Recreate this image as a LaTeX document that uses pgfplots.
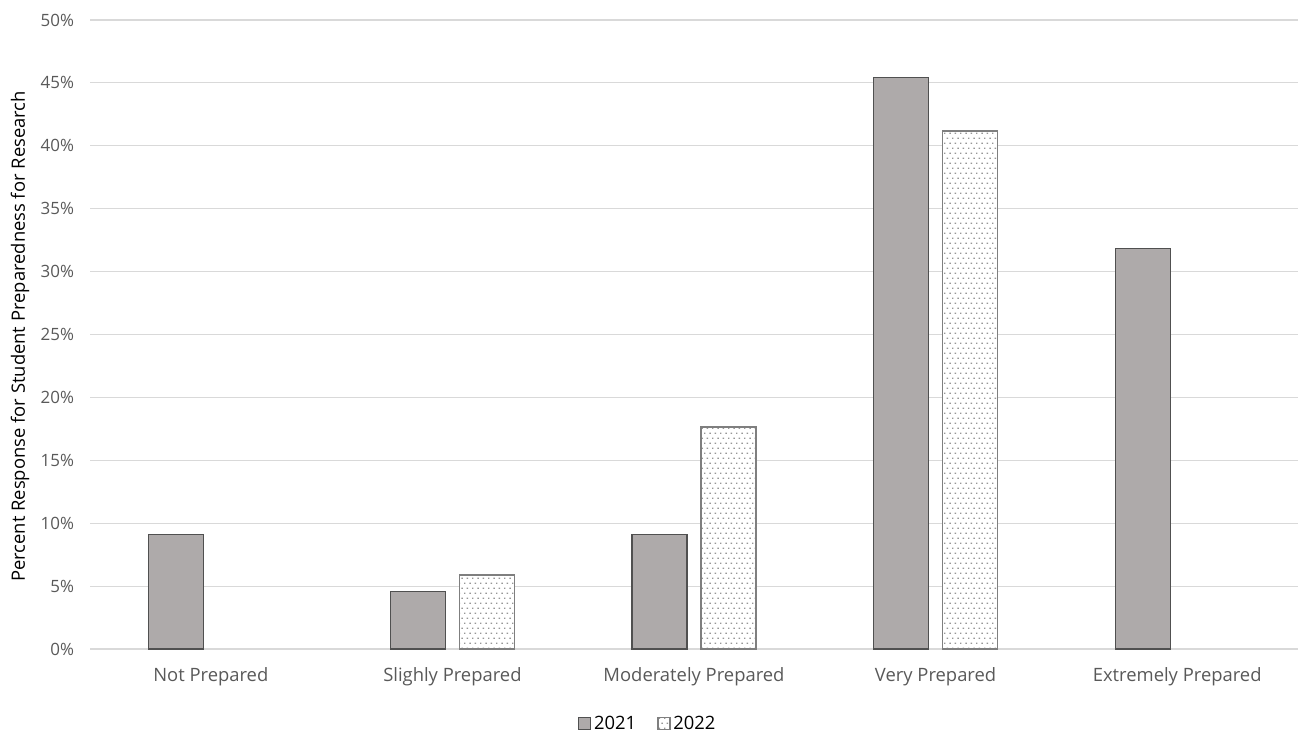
\documentclass[border=0pt]{standalone}
\usepackage{pgfplots}
\pgfplotsset{compat=1.18}
\usepackage{fontspec}
\setmainfont{Open Sans}
\usetikzlibrary{patterns}
\definecolor{txt}{RGB}{89,89,89}
\definecolor{grd}{RGB}{217,217,217}
\definecolor{barA}{RGB}{174,170,170}
\definecolor{edgeA}{RGB}{80,80,80}
\definecolor{edgeB}{RGB}{127,127,127}
\definecolor{dotc}{RGB}{150,150,150}
\pgfdeclarepatternformonly{mydots}{\pgfqpoint{-0.1pt}{-0.1pt}}{\pgfqpoint{4.1pt}{7.6pt}}{\pgfqpoint{4pt}{7.5pt}}{%
  \pgfpathrectangle{\pgfqpoint{0pt}{0pt}}{\pgfqpoint{1.1pt}{1.1pt}}%
  \pgfpathrectangle{\pgfqpoint{2pt}{3.75pt}}{\pgfqpoint{1.1pt}{1.1pt}}%
  \pgfusepath{fill}}
\begin{document}
\begin{tikzpicture}
\path[use as bounding box] (0,0) rectangle (974.25pt,-550.5pt);
\begin{axis}[
  at={(67.5pt,-486.75pt)}, anchor=south west,
  scale only axis, width=906pt, height=471.75pt,
  xmin=-0.5, xmax=4.5, ymin=0, ymax=50,
  axis line style={draw=none},
  ytick={0,5,...,50}, xtick={0,1,2,3,4},
  xticklabels={Not Prepared, Slighly Prepared, Moderately Prepared, Very Prepared, Extremely Prepared},
  yticklabel={\pgfmathprintnumber{\tick}\%},
  /pgf/number format/assume math mode=true,
  ymajorgrids, grid style={grd, line width=0.9pt},
  major tick length=0pt,
  font=\fontsize{13.8}{16}\selectfont,
  ticklabel style={text=txt},
  yticklabel style={xshift=-8.5pt, font=\fontsize{12.7}{15}\selectfont},
  xticklabel style={yshift=-10pt},
  ylabel={Percent Response for Student Preparedness for Research},
  ylabel style={text=black, at={(axis description cs:-0.058,0.497)}, anchor=center, rotate=0},
  legend style={at={(axis description cs:0.462,-0.119)}, anchor=center, draw=none, legend columns=2, text=black,
    font=\fontsize{13.8}{16}\selectfont,
    /tikz/every even column/.append style={column sep=14pt}},
  legend image code/.code={\draw[#1] (0pt,-4.5pt) rectangle (9pt,4.5pt);},
  clip=false,
]
\addplot[ybar, bar width=0.2277, bar shift=-0.1428, fill=barA, draw=edgeA, line width=0.9pt]
  coordinates {(0,9.09) (1,4.55) (2,9.09) (3,45.45) (4,31.82)};
\addlegendentry{2021}
\addplot[ybar, bar width=0.2277, bar shift=0.1428, fill=white, postaction={pattern=mydots, pattern color=dotc}, draw=edgeB, line width=0.9pt]
  coordinates {(1,5.88) (2,17.65) (3,41.18)};
\addlegendentry{2022}
\end{axis}
\end{tikzpicture}
\end{document}
